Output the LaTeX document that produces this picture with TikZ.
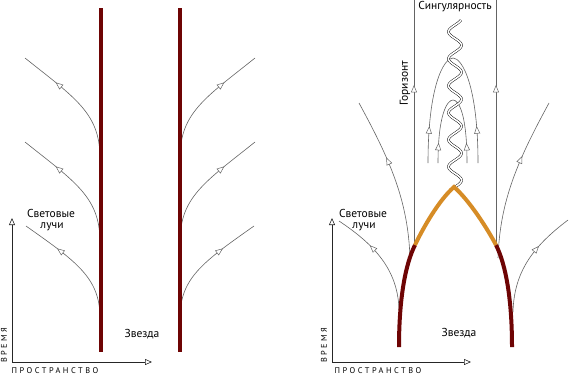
\documentclass[tikz,border=0pt]{standalone}
\usepackage{fontspec}
\setmainfont{PT Sans}
\newfontfamily\spacedfont[LetterSpace=30]{PT Sans}
\usetikzlibrary{arrows.meta,decorations.markings}
\definecolor{starred}{RGB}{110,4,4}
\definecolor{collapse}{RGB}{214,140,38}
\definecolor{raygray}{RGB}{100,100,100}
\tikzset{
  starline/.style={line width=4pt, draw=starred},
  collapseline/.style={line width=4pt, draw=collapse, line join=miter},
  rayline/.style={draw=raygray, line width=0.6pt},
  arrowat/.style={postaction={decorate}, decoration={markings, mark=at position #1 with {\arrow{Triangle[length=7.5pt,width=6pt,fill=white,line width=0.5pt]}}}},
  lbl/.style={font=\fontsize{11.5}{13}\selectfont, inner sep=0pt},
  axlbl/.style={font=\spacedfont\fontsize{8.3}{9}\selectfont, inner sep=0pt},
  axisline/.style={draw=black!85, line width=0.6pt, -{Triangle[open,length=7pt,width=6pt]}},
  wave/.style={draw=black, double=white, double distance=1.6pt, line width=0.45pt},
}
\begin{document}
\begin{tikzpicture}[x=1pt,y=-1pt]
\useasboundingbox (0,0) rectangle (569,375);

% ---------- left panel ----------
% light rays
\draw[rayline, arrowat=0.7] (100,158) .. controls (100,113) and (75,98) .. (25,58);
\draw[rayline, arrowat=0.7] (100,242) .. controls (100,197) and (75,182) .. (25,142);
\draw[rayline, arrowat=0.69] (100,318) .. controls (100,278) and (77,262) .. (26,226);
\draw[rayline, arrowat=0.7] (180,158) .. controls (180,113) and (205,98) .. (255,58);
\draw[rayline, arrowat=0.7] (180,242) .. controls (180,197) and (205,182) .. (255,142);
\draw[rayline, arrowat=0.69] (180,318) .. controls (180,278) and (203,262) .. (254,226);
% star
\draw[starline] (101,8) -- (101,352);
\draw[starline] (180,8) -- (180,352);
% axes
\coordinate (O1) at (12,362);
\coordinate (T1) at (12,218);
\coordinate (S1) at (152,362);
\draw[axisline] (O1) -- (T1);
\draw[axisline] (O1) -- (S1);
\node[axlbl, rotate=90] (time1) at (4,345) {ВРЕМЯ};
\node[axlbl] (space1) at (55,371) {ПРОСТРАНСТВО};
\node[lbl] (rays1a) at (51,213) {Световые};
\node[lbl] (rays1b) at (52,227) {лучи};
\node[lbl] (star1) at (142,334) {Звезда};

% ---------- right panel ----------
% outer light rays
\draw[rayline, arrowat=0.63] (410,258) .. controls (408,200) and (390,160) .. (359,103);
\draw[rayline, arrowat=0.65] (399,310) .. controls (398,270) and (375,245) .. (339,221);
\draw[rayline, arrowat=0.64] (498,258) .. controls (500,200) and (518,160) .. (549,103);
\draw[rayline, arrowat=0.65] (513,312) .. controls (514,270) and (535,245) .. (568,220);
% horizon
\draw[rayline, arrowat=0.656] (414,247) -- (414,0);
\draw[rayline, arrowat=0.656] (496,247) -- (496,0);
% trapped rays
\draw[rayline, arrowat=0.33] (428,163) .. controls (428,85) and (444,58) .. (453,58);
\draw[rayline, arrowat=0.33] (478,163) .. controls (478,85) and (462,58) .. (453,58);
\draw[rayline, arrowat=0.3] (438,163) .. controls (438,115) and (447,100) .. (453,100);
\draw[rayline, arrowat=0.3] (467,163) .. controls (467,115) and (459,100) .. (453,100);
% singularity
\draw[wave] plot[domain=0:167, samples=160, smooth] ({455+6.5*sin(13.3333*\x)}, {187-\x});
% collapsing star
\draw[starline] (399,347) .. controls (399,300) and (405,265) .. (415,245);
\draw[starline] (512,347) .. controls (512,300) and (506,265) .. (496,245);
\draw[collapseline] (415,245) .. controls (423,228) and (439,200) .. (454,187)
                    .. controls (469,200) and (487,228) .. (496,245);
% axes
\coordinate (O2) at (332,362);
\coordinate (T2) at (332,218);
\coordinate (S2) at (471,362);
\draw[axisline] (O2) -- (T2);
\draw[axisline] (O2) -- (S2);
\node[axlbl, rotate=90] (time2) at (324,345) {ВРЕМЯ};
\node[axlbl] (space2) at (378,371) {ПРОСТРАНСТВО};
\node[lbl] (rays2a) at (363,213) {Световые};
\node[lbl] (rays2b) at (364,227) {лучи};
\node[lbl] (star2) at (459,333) {Звезда};
\node[lbl] (sing) at (455,7) {Сингулярность};
\node[lbl, rotate=90] (hor) at (405,83) {Горизонт};
\end{tikzpicture}
\end{document}
